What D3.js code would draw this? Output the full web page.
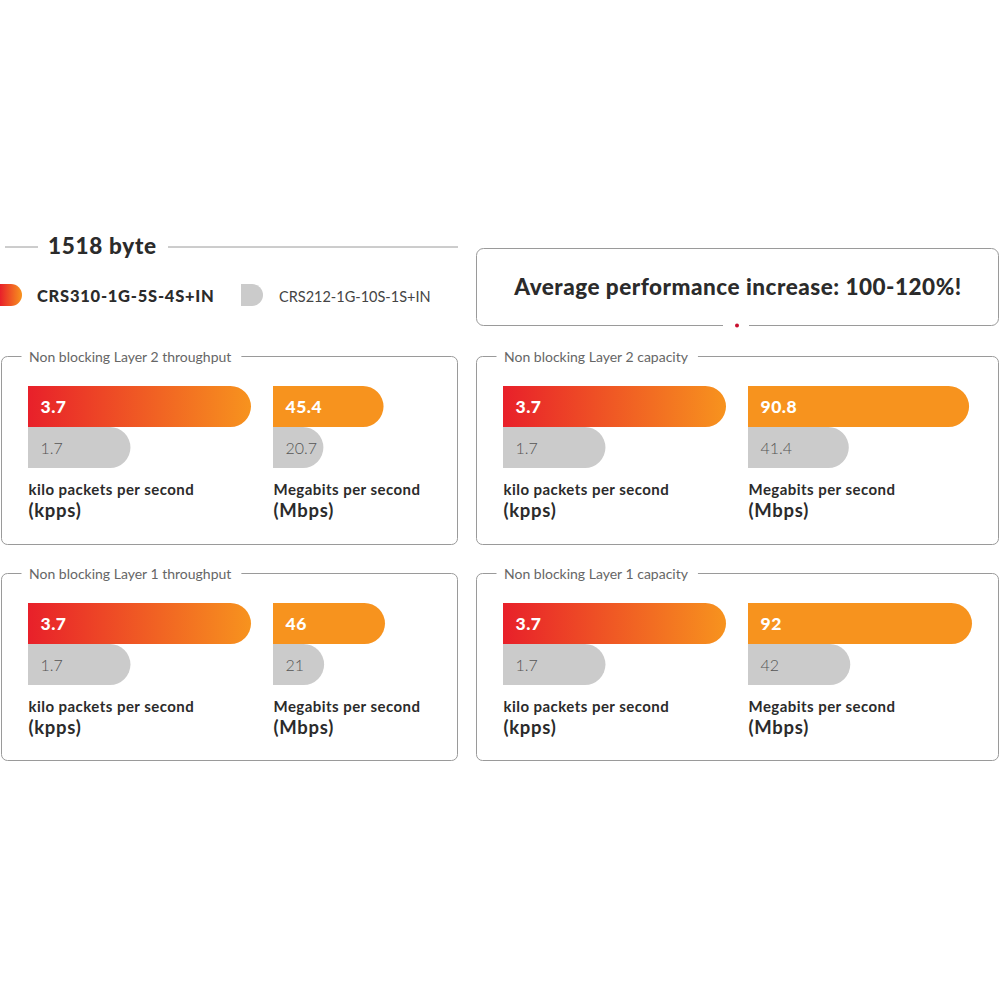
<!DOCTYPE html>
<html><head><meta charset="utf-8">
<script src="https://cdn.jsdelivr.net/npm/d3@7"></script>
<style>
html,body{margin:0;padding:0;background:#fff;}
svg{display:block;font-family:Lato,"Open Sans",sans-serif;}
</style></head>
<body><svg id="c" width="1000" height="1000"></svg>
<script>
// ---- data ----
const packetSize = "1518 byte";
const seriesNames = ["CRS310-1G-5S-4S+IN", "CRS212-1G-10S-1S+IN"];
const headline = "Average performance increase: 100-120%!";
const panelTitles = ["Non blocking Layer 2 throughput", "Non blocking Layer 2 capacity",
                     "Non blocking Layer 1 throughput", "Non blocking Layer 1 capacity"];
const kppsNew = [3.7, 3.7, 3.7, 3.7];
const kppsOld = [1.7, 1.7, 1.7, 1.7];
const mbpsNew = [45.4, 90.8, 46, 92];
const mbpsOld = [20.7, 41.4, 21, 42];
const kppsLabel = ["kilo packets per second", "(kpps)"];
const mbpsLabel = ["Megabits per second", "(Mbps)"];

const svg = d3.select("#c");
const defs = svg.append("defs");
const grad = defs.append("linearGradient").attr("id","g1").attr("x1","0%").attr("x2","100%");
grad.append("stop").attr("offset","0%").attr("stop-color","#e8202a");
grad.append("stop").attr("offset","100%").attr("stop-color","#f7931e");

const ORANGE = "#f7931e", GRAY = "#cbcbcb", LINE = "#9a9a9a", TXT = "#2b2b2b";

const xK = d3.scaleLinear().domain([0, 3.7]).range([0, 223]);
const xM = d3.scaleLinear().domain([0, 92]).range([0, 224]);

function barPath(x, y, w, h, r) {
  r = Math.min(r, w, h/2);
  return `M${x},${y}H${x+w-r}A${r},${r} 0 0 1 ${x+w},${y+r}V${y+h-r}A${r},${r} 0 0 1 ${x+w-r},${y+h}H${x}Z`;
}

// ---- header ----
svg.append("line").attr("x1",5).attr("x2",38).attr("y1",247).attr("y2",247).attr("stroke",LINE).attr("stroke-width",1);
svg.append("line").attr("x1",168).attr("x2",458).attr("y1",247).attr("y2",247).attr("stroke",LINE).attr("stroke-width",1);
svg.append("text").attr("x",48).attr("y",254).attr("font-size",22.5).attr("font-weight",900).attr("fill",TXT).attr("letter-spacing",0.7).text(packetSize);

// legend
svg.append("path").attr("d", barPath(0,284,22,22,11)).attr("fill","url(#g1)");
svg.append("text").attr("x",37).attr("y",302).attr("font-size",16.5).attr("font-weight",900).attr("fill",TXT).attr("letter-spacing",0.75).text(seriesNames[0]);
svg.append("path").attr("d", barPath(241,284,22,22,11)).attr("fill",GRAY);
svg.append("text").attr("x",279).attr("y",302).attr("font-size",14.5).attr("font-weight",400).attr("fill","#444").text(seriesNames[1]);

// headline box
const hb = {x:476.5, y:248.5, w:522, h:77, r:7};
svg.append("path").attr("fill","none").attr("stroke",LINE).attr("stroke-width",1)
  .attr("d", `M723,${hb.y+hb.h}H${hb.x+hb.r}A${hb.r},${hb.r} 0 0 1 ${hb.x},${hb.y+hb.h-hb.r}V${hb.y+hb.r}A${hb.r},${hb.r} 0 0 1 ${hb.x+hb.r},${hb.y}H${hb.x+hb.w-hb.r}A${hb.r},${hb.r} 0 0 1 ${hb.x+hb.w},${hb.y+hb.r}V${hb.y+hb.h-hb.r}A${hb.r},${hb.r} 0 0 1 ${hb.x+hb.w-hb.r},${hb.y+hb.h}H749`);
svg.append("circle").attr("cx",737).attr("cy",325.5).attr("r",2).attr("fill","#c8102e");
svg.append("text").attr("x",738).attr("y",295).attr("text-anchor","middle").attr("font-size",22.5).attr("font-weight",900).attr("fill",TXT).attr("letter-spacing",0.5).text(headline);

// ---- panels ----
const panels = [
  {x:1.5, y:356.5, w:456, h:188},
  {x:476.5, y:356.5, w:522, h:188},
  {x:1.5, y:573.5, w:456, h:187},
  {x:476.5, y:573.5, w:522, h:187}
];
panels.forEach((p, i) => {
  const g = svg.append("g");
  const r = 6;
  const t = g.append("text").attr("x", p.x + 27.5).attr("y", p.y + 5).attr("font-size",14).attr("font-weight",400).attr("fill","#666").text(panelTitles[i]);
  const tw = t.node().getComputedTextLength();
  const gapL = p.x + 20, gapR = p.x + 27.5 + tw + 10;
  g.append("path").attr("fill","none").attr("stroke",LINE).attr("stroke-width",1)
    .attr("d", `M${gapL},${p.y}H${p.x+r}A${r},${r} 0 0 0 ${p.x},${p.y+r}V${p.y+p.h-r}A${r},${r} 0 0 0 ${p.x+r},${p.y+p.h}H${p.x+p.w-r}A${r},${r} 0 0 0 ${p.x+p.w},${p.y+p.h-r}V${p.y+r}A${r},${r} 0 0 0 ${p.x+p.w-r},${p.y}H${gapR}`);

  const bx1 = p.x + 26.5, bx2 = p.x + 271.5;
  const by = p.y + 29.5, bh = 41;
  const groups = [
    {x: bx1, s: xK, nv: kppsNew[i], ov: kppsOld[i], fill: "url(#g1)", lab: kppsLabel},
    {x: bx2, s: xM, nv: mbpsNew[i], ov: mbpsOld[i], fill: ORANGE, lab: mbpsLabel}
  ];
  groups.forEach(gr => {
    g.append("path").attr("d", barPath(gr.x, by + bh, gr.s(gr.ov), bh, 20.5)).attr("fill", GRAY);
    g.append("path").attr("d", barPath(gr.x, by, gr.s(gr.nv), bh, 20.5)).attr("fill", gr.fill);
    g.append("text").attr("x", gr.x + 12.5).attr("y", by + 27).attr("font-size",17.5).attr("font-weight",900).attr("fill","#fff").attr("letter-spacing",0.5).text(gr.nv);
    g.append("text").attr("x", gr.x + 12.5).attr("y", by + bh + 27).attr("font-size",16).attr("font-weight",300).attr("fill","#555").text(gr.ov);
    g.append("text").attr("x", gr.x + 0.5).attr("y", by + 109).attr("font-size",15).attr("font-weight",700).attr("fill",TXT).attr("letter-spacing",0.45).text(gr.lab[0]);
    g.append("text").attr("x", gr.x + 0.5).attr("y", by + 131).attr("font-size",18.5).attr("font-weight",700).attr("fill",TXT).attr("letter-spacing",0.7).text(gr.lab[1]);
  });
});
</script></body></html>
